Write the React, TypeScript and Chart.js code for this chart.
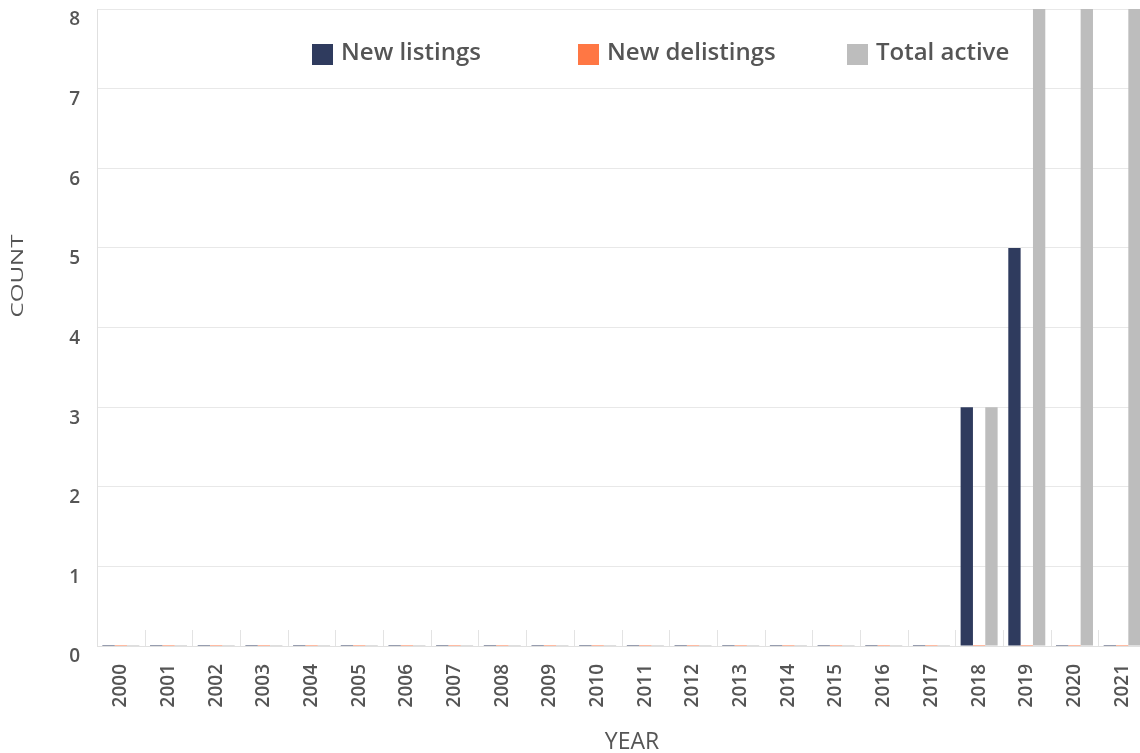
import React, { useEffect, useRef } from "react";
import { Chart, registerables } from "chart.js";

Chart.register(...registerables);

const years = [
  "2000", "2001", "2002", "2003", "2004", "2005", "2006", "2007", "2008", "2009", "2010",
  "2011", "2012", "2013", "2014", "2015", "2016", "2017", "2018", "2019", "2020", "2021",
];
const newListings = [0, 0, 0, 0, 0, 0, 0, 0, 0, 0, 0, 0, 0, 0, 0, 0, 0, 0, 3, 5, 0, 0];
const newDelistings = [0, 0, 0, 0, 0, 0, 0, 0, 0, 0, 0, 0, 0, 0, 0, 0, 0, 0, 0, 0, 0, 0];
const totalActive = [0, 0, 0, 0, 0, 0, 0, 0, 0, 0, 0, 0, 0, 0, 0, 0, 0, 0, 3, 8, 8, 8];
const seriesNames = ["New listings", "New delistings", "Total active"];
const seriesColors = ["#2f3b5e", "#ff7744", "#bdbdbd"];
const yMax = 8;
const yTitle = "COUNT";
const xTitle = "YEAR";

const FONT = "'Open Sans', sans-serif";
const TEXT = "#555555";

const legendPlugin = {
  id: "customLegend",
  afterDraw(chart: any) {
    const ctx = chart.ctx;
    const area = chart.chartArea;
    const starts = [215, 481, 750];
    ctx.save();
    ctx.font = `600 24px ${FONT}`;
    ctx.textBaseline = "middle";
    ctx.textAlign = "left";
    seriesNames.forEach((name, i) => {
      const x = area.left + starts[i];
      const y = area.top + 35;
      ctx.fillStyle = seriesColors[i];
      ctx.fillRect(x, y, 21, 21);
      ctx.fillStyle = TEXT;
      ctx.fillText(name, x + 29, y + 9);
    });
    ctx.restore();
  },
};

const catTickPlugin = {
  id: "catTicks",
  afterDatasetsDraw(chart: any) {
    const ctx = chart.ctx;
    const xs = chart.scales.x;
    const area = chart.chartArea;
    const step = xs.width / years.length;
    ctx.save();
    ctx.strokeStyle = "#e3e3e3";
    ctx.lineWidth = 1;
    for (let i = 1; i < years.length; i++) {
      const x = Math.round(xs.getPixelForValue(i) - step / 2) + 0.5;
      ctx.beginPath();
      ctx.moveTo(x, area.bottom - 16);
      ctx.lineTo(x, area.bottom);
      ctx.stroke();
    }
    ctx.restore();
  },
};

const titlesPlugin = {
  id: "axisTitles",
  afterDraw(chart: any) {
    const ctx = chart.ctx;
    ctx.save();
    ctx.fillStyle = TEXT;
    ctx.textAlign = "center";
    ctx.textBaseline = "middle";
    ctx.font = `400 23px ${FONT}`;
    ctx.fillText(xTitle, 632, 742);
    ctx.font = `400 17px ${FONT}`;
    ctx.translate(18, 276);
    ctx.rotate(-Math.PI / 2);
    ctx.scale(1.42, 1);
    ctx.fillText(yTitle, 0, 0);
    ctx.restore();
  },
};

export default function App() {
  const ref = useRef<HTMLCanvasElement | null>(null);
  useEffect(() => {
    if (!ref.current) return;
    const datasets = [newListings, newDelistings, totalActive].map((d, i) => ({
      label: seriesNames[i],
      data: d,
      backgroundColor: seriesColors[i],
      borderWidth: 0,
      minBarLength: 1,
      barPercentage: 1,
      categoryPercentage: 0.776,
    }));
    const chart = new Chart(ref.current, {
      type: "bar",
      data: { labels: years, datasets },
      options: {
        responsive: false,
        animation: false,
        devicePixelRatio: 1,
        layout: { padding: { top: 9, right: 4, left: 0, bottom: 0 } },
        plugins: { legend: { display: false }, tooltip: { enabled: false } },
        scales: {
          x: {
            grid: { display: false },
            border: { display: true, color: "#e0e0e0" },
            ticks: {
              autoSkip: false,
              minRotation: 90,
              maxRotation: 90,
              padding: 10,
              color: TEXT,
              font: { family: FONT, size: 19, weight: "600" },
            },
            afterFit(scale: any) {
              scale.height = 107;
              scale.paddingLeft = 0;
              scale.paddingRight = 0;
            },
          },
          y: {
            min: 0,
            max: yMax,
            grid: { color: "#e8e8e8", drawTicks: false },
            border: { display: true, color: "#e0e0e0" },
            ticks: {
              stepSize: 1,
              padding: 17,
              labelOffset: 11,
              color: TEXT,
              font: { family: FONT, size: 19, weight: "600" },
            },
            afterFit(scale: any) {
              scale.width = 97;
              scale.paddingTop = 0;
              scale.paddingBottom = 0;
            },
          },
        },
      },
      plugins: [catTickPlugin, legendPlugin, titlesPlugin],
    } as any);
    return () => chart.destroy();
  }, []);
  return (
    <div style={{ position: "fixed", left: 0, top: 0, width: 1140, height: 753, overflow: "hidden", background: "#fff" }}>
      <canvas ref={ref} width={1150} height={753} style={{ display: "block" }} />
    </div>
  );
}
